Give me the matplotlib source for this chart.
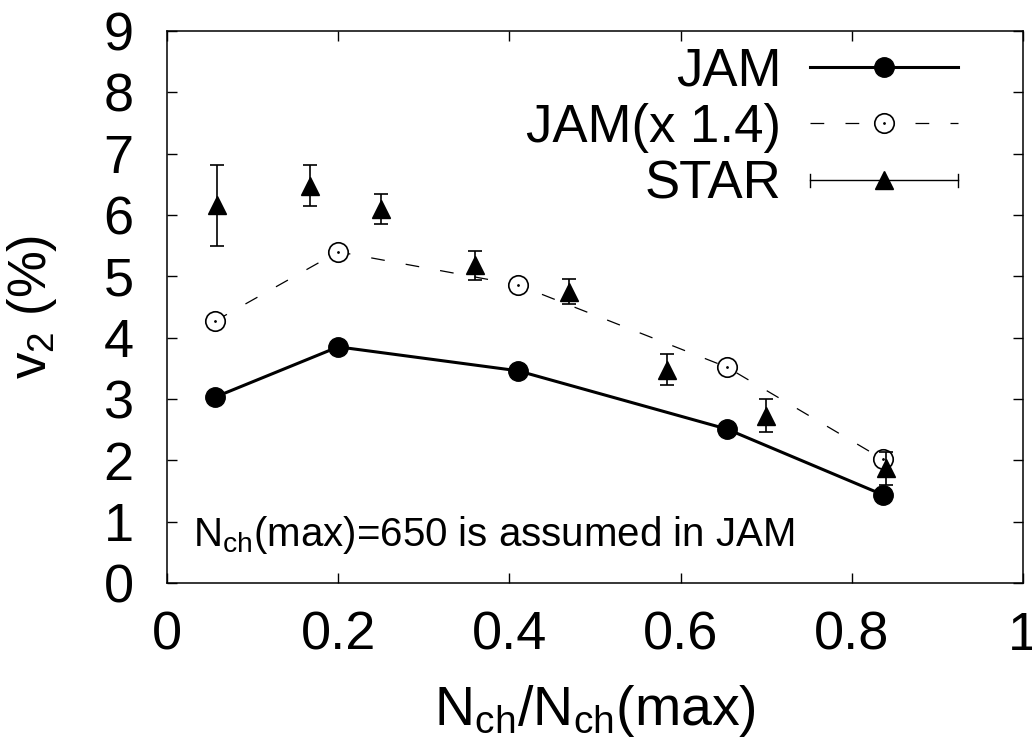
import numpy as np
import matplotlib
matplotlib.use('Agg')
import matplotlib.pyplot as plt
from matplotlib.lines import Line2D
from matplotlib.legend_handler import HandlerBase

plt.rcParams['font.family'] = ['Liberation Sans', 'DejaVu Sans']
plt.rcParams['mathtext.fontset'] = 'custom'
plt.rcParams['mathtext.rm'] = 'Liberation Sans'
plt.rcParams['mathtext.it'] = 'Liberation Sans:italic'

# JAM model points
jam_x = [0.056, 0.200, 0.410, 0.654, 0.836]
jam_v2 = [3.03, 3.85, 3.46, 2.51, 1.44]
# JAM scaled by 1.4
jam14_v2 = [4.27, 5.40, 4.86, 3.52, 2.02]
# STAR data
star_x = [0.058, 0.167, 0.250, 0.360, 0.470, 0.584, 0.700, 0.840]
star_v2 = [6.16, 6.48, 6.10, 5.18, 4.75, 3.48, 2.73, 1.87]
star_err = [0.66, 0.34, 0.25, 0.24, 0.20, 0.25, 0.27, 0.27]

xticks = [0, 0.2, 0.4, 0.6, 0.8, 1]
xticklabels = ['0', '0.2', '0.4', '0.6', '0.8', '1']
yticks = list(range(10))


class StarHandler(HandlerBase):
    # gnuplot-like key: horizontal bar with end caps and a triangle in the middle
    def create_artists(self, legend, orig_handle, xdescent, ydescent,
                       width, height, fontsize, trans):
        y = height / 2 - ydescent
        x0, x1 = -xdescent, width - xdescent
        cap = height * 0.18
        arts = [
            Line2D([x0, x1], [y, y], color='k', lw=1),
            Line2D([x0, x0], [y - cap, y + cap], color='k', lw=1),
            Line2D([x1, x1], [y - cap, y + cap], color='k', lw=1),
            Line2D([(x0 + x1) / 2], [y], marker='^', ms=13, color='k', lw=0),
        ]
        for a in arts:
            a.set_transform(trans)
        return arts


fig = plt.figure(figsize=(10.32, 7.53), dpi=100)
ax = fig.add_axes([167 / 1032, 1 - 583 / 753, (1023 - 167) / 1032, (583 - 31) / 753])

l1, = ax.plot(jam_x, jam_v2, '-', color='k', lw=2.2, marker='o', ms=14)
l2, = ax.plot(jam_x, jam14_v2, '--', color='k', lw=0.9, dashes=(11, 17),
              marker='o', ms=14, mfc='white', mew=1.2)
ax.plot(jam_x, jam14_v2, ls='none', marker='.', ms=2, color='k')
ax.errorbar(star_x, star_v2, yerr=star_err, fmt='^', color='k', ms=13,
            elinewidth=1.2, capsize=5, capthick=1.2)

dot = Line2D([], [], ls='none', marker='.', ms=2, color='k')
star_h = Line2D([], [])
ax.legend([l1, (l2, dot), star_h], ['JAM', 'JAM(x 1.4)', 'STAR'],
          handler_map={star_h: StarHandler()},
          loc='upper right', bbox_to_anchor=(0.961, 1.03), frameon=False,
          markerfirst=False, fontsize=38, handlelength=2.8, handletextpad=0.55,
          labelspacing=0.13, borderaxespad=0.2)

ax.text(0.03, 0.6, r'N$_{\mathrm{ch}}$(max)=650 is assumed in JAM', fontsize=29)

ax.set_xlim(0, 1)
ax.set_ylim(0, 9)
ax.set_xticks(xticks)
ax.set_xticklabels(xticklabels)
ax.set_yticks(yticks)
ax.tick_params(direction='in', length=7, width=1, top=True, right=True,
               labelsize=39)
ax.tick_params(axis='x', pad=20)
ax.tick_params(axis='y', pad=24)
for s in ax.spines.values():
    s.set_linewidth(1.1)

ax.set_xlabel(r'N$_{\mathrm{ch}}$/N$_{\mathrm{ch}}$(max)', fontsize=40, labelpad=16)
ax.set_ylabel(r'v$_2$ (%)', fontsize=38, labelpad=32)

fig.savefig('out.png', dpi=100)
